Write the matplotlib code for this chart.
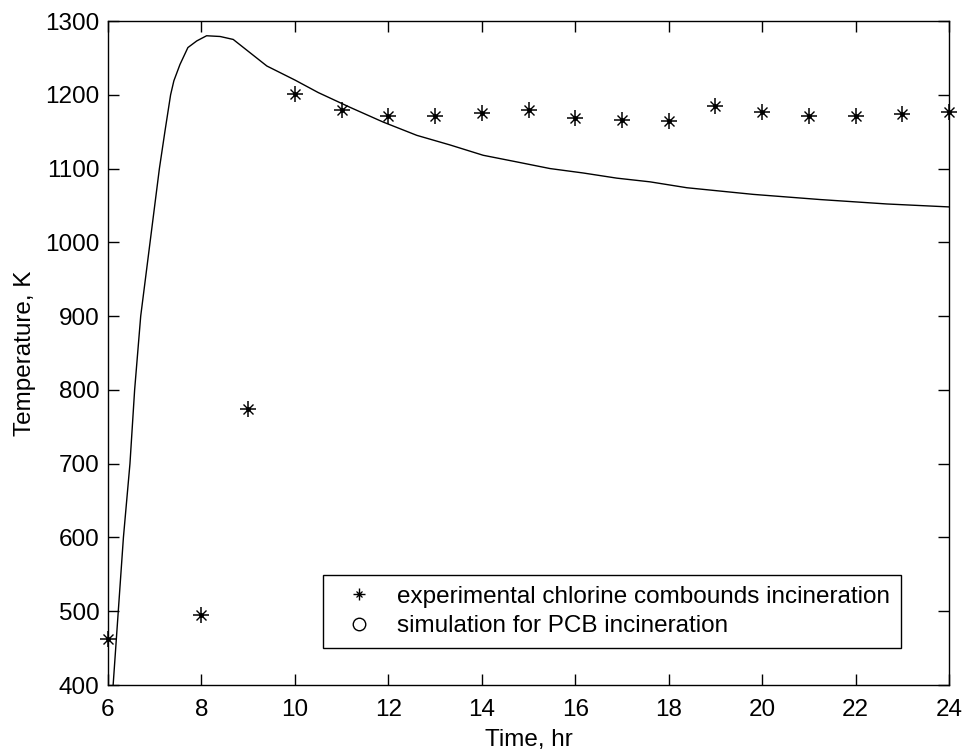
import matplotlib
matplotlib.use("Agg")
import matplotlib.pyplot as plt
from matplotlib.lines import Line2D
from matplotlib.legend_handler import HandlerTuple

plt.rcParams['font.family'] = ['Liberation Sans', 'DejaVu Sans']

# Measured reactor temperature (chlorine compound incineration)
exp_time = [6, 8, 9, 10, 11, 12, 13, 14, 15, 16, 17, 18, 19, 20, 21, 22, 23, 24]
exp_temp = [462, 495, 774, 1201, 1179, 1171, 1171, 1175, 1179, 1168, 1166,
            1164, 1185, 1177, 1171, 1171, 1174, 1177]

# Simulated temperature profile for PCB incineration
sim_time = [6.05, 6.11, 6.22, 6.33, 6.47, 6.57, 6.70, 6.90, 7.10, 7.22, 7.34,
            7.41, 7.54, 7.71, 7.90, 8.11, 8.40, 8.68, 8.90, 9.40, 10.0, 10.5,
            11.18, 11.89, 12.61, 13.32, 14.03, 14.75, 15.46, 16.17, 16.89,
            17.60, 18.39, 19.81, 21.24, 22.67, 24.0]
sim_temp = [350, 400, 500, 600, 700, 800, 900, 1000, 1100, 1151, 1200,
            1219, 1241, 1264, 1273, 1280, 1279, 1275, 1264, 1239, 1220, 1203,
            1183, 1163, 1145, 1132, 1118, 1109, 1100, 1094, 1087,
            1082, 1074, 1065, 1058, 1052, 1048]

x_ticks = list(range(6, 25, 2))
y_ticks = list(range(400, 1301, 100))

FS = 17.5

fig = plt.figure(figsize=(9.64, 7.51), dpi=100)
ax = fig.add_axes([108 / 964, 1 - 685 / 751, 841 / 964, 664 / 751])

ax.plot(sim_time, sim_temp, color='black', linewidth=1.0, zorder=2)

# MATLAB-style asterisk: long plus arms, shorter diagonal arms, centre dot
ax.plot(exp_time, exp_temp, linestyle='none', marker='+', markersize=12,
        markeredgewidth=1.1, color='black', clip_on=False, zorder=3)
ax.plot(exp_time, exp_temp, linestyle='none', marker='x', markersize=6.5,
        markeredgewidth=1.0, color='black', clip_on=False, zorder=3)
ax.plot(exp_time, exp_temp, linestyle='none', marker='o', markersize=2.5,
        color='black', clip_on=False, zorder=3)

ax.set_xlim(6, 24)
ax.set_ylim(400, 1300)
ax.set_xticks(x_ticks)
ax.set_yticks(y_ticks)
ax.tick_params(direction='in', length=8, width=1, top=True, right=True,
               labelsize=FS, colors='black')
ax.tick_params(axis='x', pad=10)
ax.tick_params(axis='y', pad=6)
for s in ax.spines.values():
    s.set_linewidth(1.0)
    s.set_color('black')

ax.set_xlabel('Time, hr', fontsize=FS, labelpad=6)
ax.set_ylabel('Temperature, K', fontsize=FS, labelpad=7)

star_plus = Line2D([], [], linestyle='none', marker='+', markersize=9,
                   markeredgewidth=1.0, color='black')
star_x = Line2D([], [], linestyle='none', marker='x', markersize=5,
                markeredgewidth=0.9, color='black')
star_dot = Line2D([], [], linestyle='none', marker='o', markersize=2,
                  color='black')
circle = Line2D([], [], linestyle='none', marker='o', markersize=9,
                markerfacecolor='none', markeredgecolor='black',
                markeredgewidth=1.0)

leg = ax.legend([(star_plus, star_x, star_dot), circle],
                ['experimental chlorine combounds incineration',
                 'simulation for PCB incineration'],
                handler_map={tuple: HandlerTuple(ndivide=1, pad=0)},
                loc='lower left', bbox_to_anchor=(0.2557, 0.0557),
                borderaxespad=0, fontsize=FS, fancybox=False, framealpha=1,
                edgecolor='black', handlelength=2.06, handletextpad=0.53,
                borderpad=0.45, labelspacing=0.3)
leg.get_frame().set_linewidth(1.0)

fig.savefig('out.png', dpi=100, facecolor='white')
